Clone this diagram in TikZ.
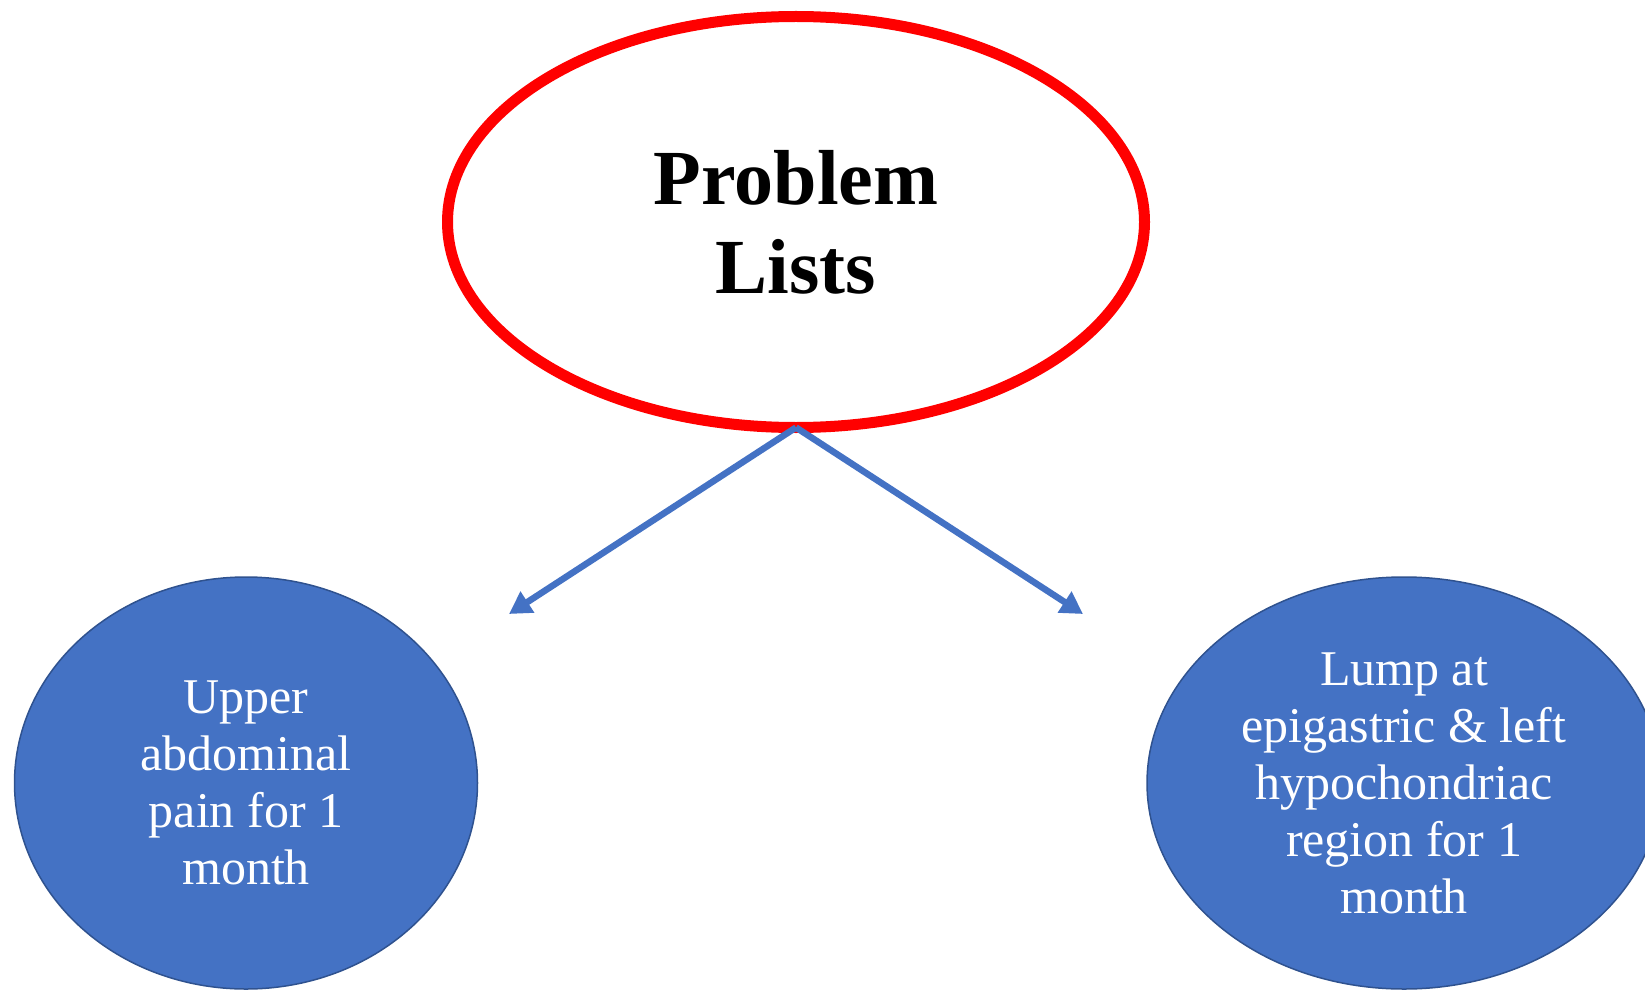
\documentclass[tikz,border=0pt]{standalone}
\usepackage{fontspec}
\setmainfont{Liberation Serif}
\usetikzlibrary{shapes.geometric,arrows.meta}
\definecolor{officeblue}{HTML}{4472C4}
\definecolor{officeline}{HTML}{2F528F}
\begin{document}
\begin{tikzpicture}[x=1pt,y=-1pt,
  topic/.style={draw=red,line width=11pt,ellipse,inner sep=0pt,outer sep=0pt,align=center,font=\fontsize{78}{89}\selectfont\bfseries},
  item/.style={draw=officeline,line width=1.5pt,fill=officeblue,ellipse,inner sep=0pt,align=center,text=white,font=\fontsize{50}{57}\selectfont},
  link/.style={draw=officeblue,line width=6.5pt,-{Triangle[length=22pt,width=24pt]}}]
  \useasboundingbox (0,0) rectangle (1645,992);
  \node[topic,minimum width=697pt,minimum height=411pt] (P) at (796,222) {Problem\\Lists};
  \node[item,minimum width=463pt,minimum height=412pt] (L) at (246,783) {Upper\\abdominal\\pain for 1\\month};
  \node[item,minimum width=514pt,minimum height=412pt] (R) at (1404,783) {Lump at\\epigastric \& left\\hypochondriac\\region for 1\\month};
  \coordinate (a1) at (509,614);
  \coordinate (a2) at (1083,614);
  \draw[link] (P.south) -- (a1);
  \draw[link] (P.south) -- (a2);
\end{tikzpicture}
\end{document}
